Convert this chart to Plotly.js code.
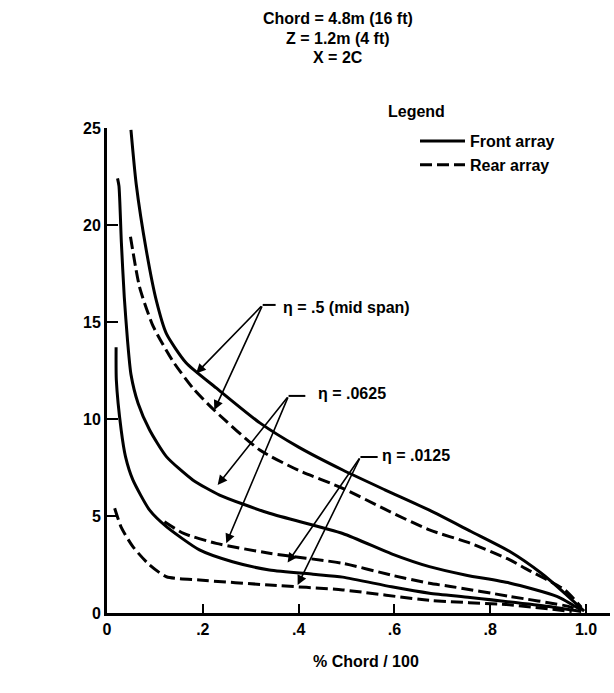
<!DOCTYPE html>
<html>
<head>
<meta charset="utf-8">
<script src="https://cdn.plot.ly/plotly-3.0.1.min.js"></script>
<style>html,body{margin:0;padding:0;background:#fff;}#chart{width:614px;height:693px;}</style>
</head>
<body>
<div id="chart"></div>
<script>
// ---- data ----
const midFrontX = [0.05, 0.061, 0.082, 0.103, 0.124, 0.165, 0.228, 0.319, 0.40, 0.492, 0.58, 0.673, 0.76, 0.84, 0.906, 0.955, 0.996];
const midFrontY = [24.9, 22.1, 18.7, 16.1, 14.4, 12.9, 11.6, 9.8, 8.55, 7.37, 6.35, 5.3, 4.2, 3.18, 2.06, 1.03, 0.1];
const midRearX  = [0.049, 0.068, 0.096, 0.137, 0.179, 0.224, 0.319, 0.40, 0.492, 0.58, 0.673, 0.758, 0.84, 0.873, 0.955, 0.99];
const midRearY  = [19.4, 16.8, 14.8, 13.0, 11.6, 10.45, 8.4, 7.35, 6.43, 5.35, 4.28, 3.6, 2.75, 2.3, 1.2, 0.3];
const e0625FrontX = [0.022, 0.025, 0.03, 0.036, 0.043, 0.05, 0.065, 0.089, 0.124, 0.179, 0.235, 0.339, 0.492, 0.594, 0.673, 0.75, 0.84, 0.939, 0.99];
const e0625FrontY = [22.4, 22.0, 19.1, 16.3, 14.0, 12.3, 10.8, 9.43, 8.06, 6.86, 6.08, 5.14, 4.1, 3.05, 2.39, 1.95, 1.55, 0.86, 0.15];
const e0625RearX  = [0.12, 0.16, 0.228, 0.339, 0.492, 0.594, 0.673, 0.717, 0.84, 0.963, 0.99];
const e0625RearY  = [4.7, 4.1, 3.59, 3.08, 2.56, 1.95, 1.53, 1.37, 0.86, 0.34, 0.1];
const e0125FrontX = [0.019, 0.0195, 0.0296, 0.0386, 0.054, 0.089, 0.124, 0.193, 0.262, 0.339, 0.43, 0.492, 0.594, 0.673, 0.758, 0.922, 0.99];
const e0125FrontY = [13.7, 12.0, 9.43, 8.06, 6.86, 5.3, 4.45, 3.25, 2.64, 2.22, 2.0, 1.85, 1.35, 1.02, 0.8, 0.34, 0.08];
const e0125RearX  = [0.016, 0.03, 0.054, 0.089, 0.124, 0.193, 0.339, 0.492, 0.673, 0.84, 0.97];
const e0125RearY  = [5.4, 4.4, 3.42, 2.47, 1.87, 1.7, 1.44, 1.19, 0.65, 0.42, 0.08];

const xTickVals = [0, 0.2, 0.4, 0.6, 0.8, 1.0];
const xTickText = ['0', '.2', '.4', '.6', '.8', '1.0'];
const yTickVals = [0, 5, 10, 15, 20, 25];
const yTickText = ['0', '5', '10', '15', '20', '25'];

const titleLines = ['Chord = 4.8m (16 ft)', 'Z = 1.2m (4 ft)', 'X = 2C'];

// label positions: [text, textX, textY, cornerX, cornerY, hookEndX, targets]
const etaLabels = [
  ['\u03b7 = .5 (mid span)', 0.364, 15.75, 0.325, 15.88, 0.352, [[0.186, 12.35], [0.224, 10.46]]],
  ['\u03b7 = .0625',         0.437, 11.32, 0.379, 11.19, 0.414, [[0.231, 6.6], [0.249, 3.59]]],
  ['\u03b7 = .0125',         0.569, 8.14,  0.529, 8.04,  0.565, [[0.377, 2.6], [0.398, 1.44]]]
];

const FONT = 'Liberation Sans, Arial, sans-serif';
const lineW = 3;
function f(size) { return {family: FONT, size: size, color: '#000', weight: 'bold'}; }

function tr(x, y, dash, name, show) {
  return {x: x, y: y, type: 'scatter', mode: 'lines', name: name, showlegend: show,
          legendgroup: name, line: {color: '#000', width: lineW, dash: dash, shape: 'spline', smoothing: 0.6}};
}
const data = [
  tr(midFrontX, midFrontY, 'solid', 'Front array', true),
  tr(midRearX, midRearY, '12px,5px', 'Rear array', true),
  tr(e0625FrontX, e0625FrontY, 'solid', 'Front array', false),
  tr(e0625RearX, e0625RearY, '12px,5px', 'Rear array', false),
  tr(e0125FrontX, e0125FrontY, 'solid', 'Front array', false),
  tr(e0125RearX, e0125RearY, '12px,5px', 'Rear array', false)
];

const annotations = [];
const shapes = [];
etaLabels.forEach(function (L) {
  annotations.push({x: L[1], y: L[2], xref: 'x', yref: 'y', text: L[0], showarrow: false,
    xanchor: 'left', yanchor: 'middle', font: f(16)});
  shapes.push({type: 'line', xref: 'x', yref: 'y', x0: L[3], y0: L[4], x1: L[5], y1: L[4],
    line: {color: '#000', width: 2}});
  L[6].forEach(function (t) {
    annotations.push({x: t[0], y: t[1], xref: 'x', yref: 'y', ax: L[3], ay: L[4], axref: 'x', ayref: 'y',
      text: '', showarrow: true, arrowhead: 2, arrowsize: 1.2, arrowwidth: 1.6, arrowcolor: '#000', standoff: 0});
  });
});
// title lines (page pixels -> paper coords: plot spans x 107..610, y 128..613)
const titleY = [19, 38, 57];
titleLines.forEach(function (t, i) {
  annotations.push({x: (338 - 107) / 503, y: (613 - titleY[i]) / 485, xref: 'paper', yref: 'paper',
    text: t, showarrow: false, xanchor: 'center', yanchor: 'middle', font: f(16)});
});
// legend heading
annotations.push({x: (386 - 107) / 503, y: (613 - 112) / 485, xref: 'paper', yref: 'paper', text: 'Legend',
  showarrow: false, xanchor: 'left', yanchor: 'middle', font: f(16)});
// axis-side texts
annotations.push({x: -0.19, y: 14.1, xref: 'x', yref: 'y', text: 'C<sub>p</sub>', showarrow: false,
  xanchor: 'left', yanchor: 'middle', font: f(17)});
annotations.push({x: -0.142, y: 13.5, xref: 'x', yref: 'y', text: '\u03b1', showarrow: false,
  xanchor: 'left', yanchor: 'middle', font: f(12)});
annotations.push({x: -0.085, y: 10, xref: 'x', yref: 'y', text: '1/rad', showarrow: false,
  xanchor: 'right', yanchor: 'middle', font: f(15)});
annotations.push({x: 0.54, y: -0.1, xref: 'x', yref: 'paper', text: '% Chord / 100', showarrow: false,
  xanchor: 'center', yanchor: 'middle', font: f(16)});

const layout = {
  width: 614, height: 693,
  margin: {l: 107, r: 4, t: 128, b: 80},
  paper_bgcolor: '#fff', plot_bgcolor: '#fff',
  font: f(15),
  xaxis: {range: [0, 1.05], tickvals: xTickVals, ticktext: xTickText, ticks: 'inside', ticklen: 9,
          tickwidth: 2, tickcolor: '#000', showline: true, linewidth: 3, linecolor: '#000',
          showgrid: false, zeroline: false, fixedrange: true, tickfont: f(16)},
  yaxis: {range: [0, 25], tickvals: yTickVals, ticktext: yTickText, ticks: 'inside', ticklen: 11,
          tickwidth: 2, tickcolor: '#000', showline: true, linewidth: 3, linecolor: '#000',
          showgrid: false, zeroline: false, fixedrange: true, tickfont: f(16)},
  showlegend: true,
  legend: {x: (415 - 107) / 503, y: (613 - 124) / 485, xanchor: 'left', yanchor: 'top',
           bgcolor: 'rgba(0,0,0,0)', font: f(16), itemwidth: 45, tracegroupgap: 0},
  annotations: annotations,
  shapes: shapes
};

Plotly.newPlot('chart', data, layout, {displayModeBar: false, staticPlot: true});
</script>
</body>
</html>
